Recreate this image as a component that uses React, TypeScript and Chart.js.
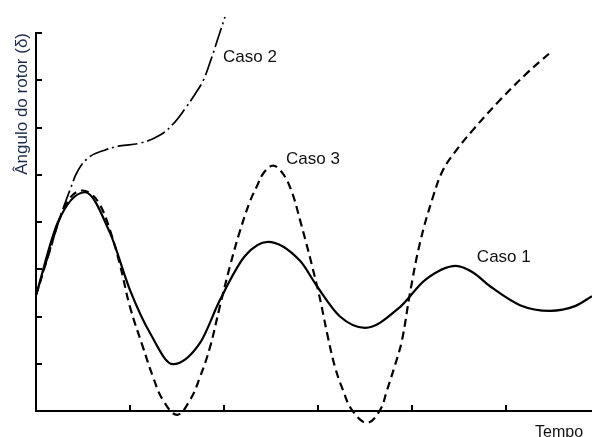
import React, { useEffect, useRef } from 'react';
import { Chart, registerables } from 'chart.js';

Chart.register(...registerables);

// Caso 1 (solid)
const caso1Time = [0, 0.234, 0.521, 0.787, 1.0, 1.213, 1.457, 1.745, 1.957, 2.223, 2.468, 2.809, 2.989, 3.234, 3.5, 3.872, 4.138, 4.468, 4.649, 4.83, 5.149, 5.468, 5.734, 5.915];
const caso1Angle = [2.45, 4.0, 4.63, 3.77, 2.56, 1.65, 0.99, 1.44, 2.35, 3.28, 3.58, 3.18, 2.64, 2.0, 1.76, 2.2, 2.77, 3.07, 2.93, 2.64, 2.24, 2.12, 2.22, 2.43];

// Caso 2 (dash-dot)
const caso2Time = [0, 0.149, 0.255, 0.362, 0.45, 0.57, 0.73, 0.89, 1.11, 1.32, 1.48, 1.59, 1.7, 1.78, 1.85, 1.93, 2.01];
const caso2Angle = [2.45, 3.41, 4.09, 4.68, 5.1, 5.38, 5.52, 5.61, 5.67, 5.84, 6.12, 6.41, 6.73, 7.0, 7.37, 7.85, 8.34];

// Caso 3 (dashed)
const caso3Time = [0, 0.149, 0.255, 0.362, 0.468, 0.574, 0.681, 0.787, 0.894, 1.0, 1.138, 1.245, 1.351, 1.5, 1.638, 1.745, 1.851, 1.957, 2.064, 2.17, 2.277, 2.351, 2.415, 2.511, 2.596, 2.702, 2.809, 3.0, 3.106, 3.181, 3.266, 3.362, 3.521, 3.66, 3.734, 3.819, 3.894, 3.979, 4.085, 4.223, 4.33, 4.457, 4.649, 4.936, 5.223, 5.457];
const caso3Angle = [2.45, 3.41, 4.09, 4.51, 4.66, 4.61, 4.36, 3.83, 3.09, 2.2, 1.35, 0.72, 0.23, -0.08, 0.23, 0.72, 1.35, 2.22, 3.07, 3.81, 4.44, 4.76, 5.02, 5.19, 5.1, 4.74, 4.04, 2.56, 1.56, 0.93, 0.44, 0.02, -0.25, 0.02, 0.44, 0.97, 1.5, 2.5, 3.56, 4.53, 5.1, 5.48, 5.95, 6.58, 7.15, 7.56];

// Axis ticks (no labels)
const xTickValues = [1, 2, 3, 4, 5];
const yTickValues = [1, 2, 3, 4, 5, 6, 7, 8];

// Curve annotations
const labelTexts = ['Caso 1', 'Caso 2', 'Caso 3'];
const labelTime = [4.69, 1.99, 2.66];
const labelAngle = [3.26, 7.49, 5.33];

// Axis titles
const yTitle = 'Ângulo do rotor (δ)';
const xTitle = 'Tempo';
const xTitleTime = 5.82;
const xTitleAngle = -0.45;

const FONT = "'Liberation Sans', Arial, Helvetica, sans-serif";

const toPoints = (xs: number[], ys: number[]) => xs.map((x, i) => ({ x, y: ys[i] }));

const decorPlugin = {
  id: 'decor',
  afterDatasetsDraw(chart: any) {
    const { ctx, scales } = chart;
    const x = scales.x;
    const y = scales.y;
    ctx.save();
    ctx.strokeStyle = '#000';
    ctx.lineWidth = 2;
    yTickValues.forEach((v) => {
      const py = Math.round(y.getPixelForValue(v));
      ctx.beginPath();
      ctx.moveTo(y.right, py);
      ctx.lineTo(y.right + 6, py);
      ctx.stroke();
    });
    xTickValues.forEach((v) => {
      const px = Math.round(x.getPixelForValue(v));
      ctx.beginPath();
      ctx.moveTo(px, x.top);
      ctx.lineTo(px, x.top - 6);
      ctx.stroke();
    });
    ctx.fillStyle = '#111';
    ctx.font = `17px ${FONT}`;
    ctx.textBaseline = 'middle';
    ctx.textAlign = 'left';
    labelTexts.forEach((t, i) => {
      ctx.fillText(t, x.getPixelForValue(labelTime[i]), y.getPixelForValue(labelAngle[i]));
    });
    ctx.font = `16px ${FONT}`;
    ctx.textAlign = 'right';
    ctx.fillText(xTitle, x.getPixelForValue(xTitleTime), y.getPixelForValue(xTitleAngle));
    ctx.restore();
  },
};

export default function App() {
  const canvasRef = useRef<HTMLCanvasElement | null>(null);

  useEffect(() => {
    document.body.style.margin = '0';
    const canvas = canvasRef.current;
    if (!canvas) return;
    const chart = new Chart(canvas, {
      type: 'line',
      data: {
        datasets: [
          {
            label: 'Caso 2',
            data: toPoints(caso2Time, caso2Angle),
            borderColor: '#000',
            borderWidth: 1.7,
            borderDash: [20, 4, 2, 4],
            pointRadius: 0,
            tension: 0.4,
            clip: false,
          },
          {
            label: 'Caso 3',
            data: toPoints(caso3Time, caso3Angle),
            borderColor: '#000',
            borderWidth: 2.2,
            borderDash: [8, 5],
            pointRadius: 0,
            tension: 0.4,
            clip: false,
          },
          {
            label: 'Caso 1',
            data: toPoints(caso1Time, caso1Angle),
            borderColor: '#000',
            borderWidth: 2.2,
            pointRadius: 0,
            cubicInterpolationMode: 'monotone',
            clip: false,
          },
        ],
      },
      options: {
        animation: false,
        responsive: true,
        maintainAspectRatio: false,
        layout: { padding: { top: 33, right: 0, bottom: 0, left: 0 } },
        plugins: {
          legend: { display: false },
          tooltip: { enabled: false },
        },
        scales: {
          x: {
            type: 'linear',
            min: 0,
            max: 5.915,
            grid: { display: false },
            border: { display: true, color: '#000', width: 2 },
            ticks: { display: false, stepSize: 1, includeBounds: false },
            afterFit: (scale: any) => {
              scale.height = 26;
            },
          },
          y: {
            type: 'linear',
            min: 0,
            max: 8,
            grid: { display: false },
            border: { display: true, color: '#000', width: 2 },
            ticks: { display: false, stepSize: 1 },
            title: {
              display: true,
              text: yTitle,
              align: 'end',
              color: '#1c2a4a',
              font: { family: FONT, size: 17, lineHeight: 1.2 },
              padding: { top: 12, bottom: 0 },
            },
            afterFit: (scale: any) => {
              scale.width = 36;
            },
          },
        },
      },
      plugins: [decorPlugin],
    } as any);
    return () => chart.destroy();
  }, []);

  return (
    <div style={{ position: 'absolute', left: 0, top: 0, width: 592, height: 437 }}>
      <canvas ref={canvasRef} />
    </div>
  );
}
